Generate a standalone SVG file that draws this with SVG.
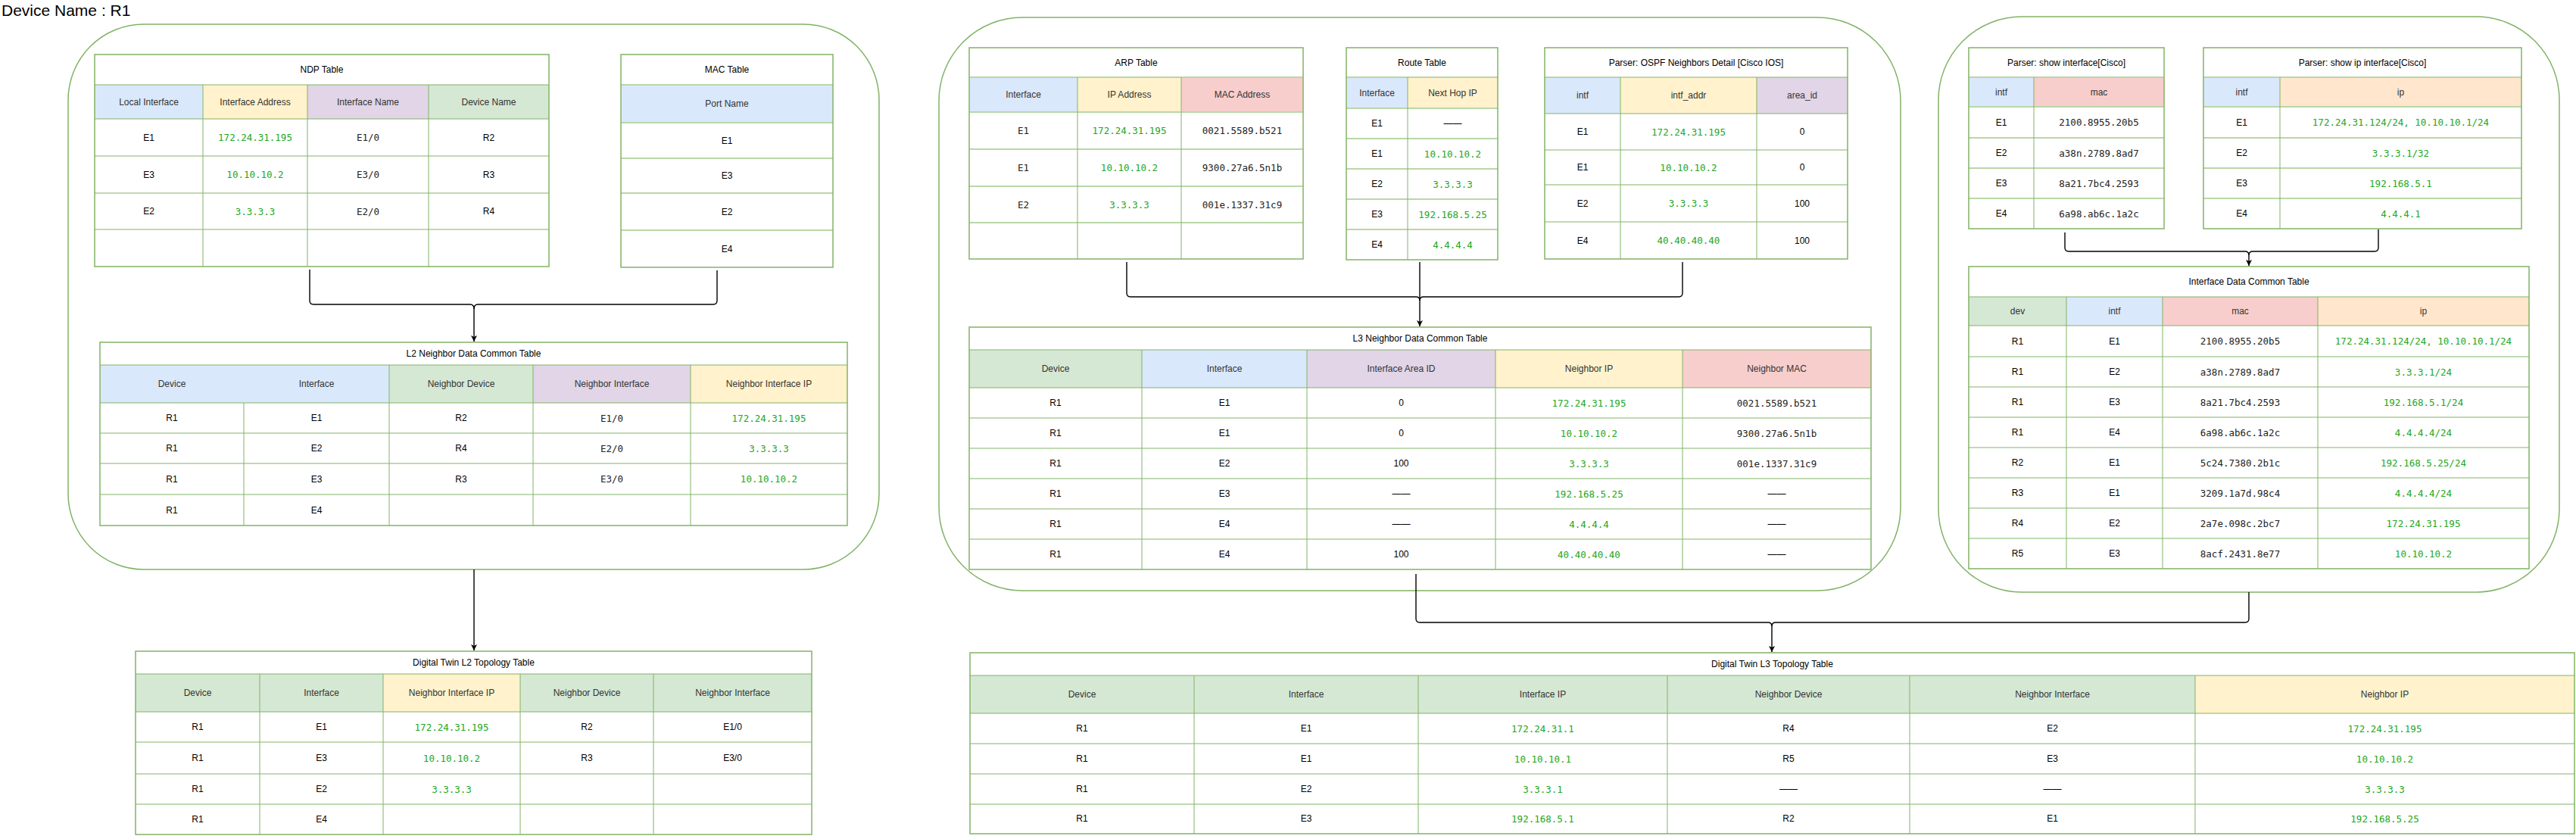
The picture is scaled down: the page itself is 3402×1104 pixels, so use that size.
<svg xmlns="http://www.w3.org/2000/svg" width="3402" height="1104" viewBox="0 0 3402 1104">
<style>
.cont{fill:#ffffff;stroke:#82b366;stroke-width:1.5}
.bg{fill:#ffffff;stroke:none}
.ob{fill:none;stroke:#82b366;stroke-width:1.5}
.ln{fill:none;stroke:#82b366;stroke-width:1}
.lt{fill:none;stroke:#b9d7a8;stroke-width:2}
.bl{fill:#dae8fc}.ye{fill:#fff2cc}.pu{fill:#e1d5e7}.gr{fill:#d5e8d4}.re{fill:#f8cecc}.or{fill:#ffe6cc}
text{text-anchor:middle;dominant-baseline:central}
.t{font-family:"Liberation Sans",Arial,sans-serif;font-size:12px;fill:#000}
.h{font-family:"Liberation Sans",Arial,sans-serif;font-size:12px;fill:#333}
.s{font-family:"Liberation Sans",Arial,sans-serif;font-size:12px;fill:#000}
.m{font-family:"DejaVu Sans Mono","Liberation Mono",monospace;font-size:12.5px;fill:#222}
.g{font-family:"DejaVu Sans Mono","Liberation Mono",monospace;font-size:12.5px;fill:#22a722}
.cn{fill:none;stroke:#000;stroke-width:1.4}
</style>
<defs>
<marker id="arr" markerWidth="10" markerHeight="10" refX="8" refY="4" orient="auto" markerUnits="userSpaceOnUse">
<path d="M0,0 L8,4 L0,8 L2,4 Z" fill="#000"/>
</marker>
</defs>

<text x="2" y="13" style="text-anchor:start;font-family:'Liberation Sans',Arial,sans-serif;font-size:21px;fill:#000">Device Name : R1</text>

<g id="containers">
<rect id="l2-container" class="cont" x="90" y="32" width="1071" height="720" rx="100"/>
<rect id="l3-container" class="cont" x="1240" y="23" width="1270" height="757" rx="110"/>
<rect id="if-container" class="cont" x="2560" y="22" width="820" height="760" rx="110"/>
</g>

<g id="ndp-table">
<rect class="bg" x="125" y="72" width="600" height="280"/>
<rect class="bl" x="125" y="112" width="143" height="45"/>
<rect class="ye" x="268" y="112" width="138" height="45"/>
<rect class="pu" x="406" y="112" width="160" height="45"/>
<rect class="gr" x="566" y="112" width="159" height="45"/>
<path class="ln" d="M125,112H725M125,157H725M125,206H725M125,255H725M125,303H725M268,112V352M406,112V352M566,112V352"/>
<rect class="ob" x="125" y="72" width="600" height="280"/>
<text class="t" x="425" y="92">NDP Table</text>
<text class="h" x="196.5" y="134.5">Local Interface</text>
<text class="h" x="337" y="134.5">Interface Address</text>
<text class="h" x="486" y="134.5">Interface Name</text>
<text class="h" x="645.5" y="134.5">Device Name</text>
<text class="s" x="196.5" y="181.5">E1</text><text class="g" x="337" y="181.5">172.24.31.195</text><text class="m" x="486" y="181.5">E1/0</text><text class="s" x="645.5" y="181.5">R2</text>
<text class="s" x="196.5" y="230.5">E3</text><text class="g" x="337" y="230.5">10.10.10.2</text><text class="m" x="486" y="230.5">E3/0</text><text class="s" x="645.5" y="230.5">R3</text>
<text class="s" x="196.5" y="279">E2</text><text class="g" x="337" y="279">3.3.3.3</text><text class="m" x="486" y="279">E2/0</text><text class="s" x="645.5" y="279">R4</text>
</g>

<g id="mac-table">
<rect class="bg" x="820" y="72" width="280" height="281"/>
<rect class="bl" x="820" y="112" width="280" height="50"/>
<path class="lt" d="M820,112H1100M820,162H1100M820,209H1100M820,255H1100M820,304H1100"/>
<rect class="ob" x="820" y="72" width="280" height="281"/>
<text class="t" x="960" y="92">MAC Table</text>
<text class="h" x="960" y="137">Port Name</text>
<text class="s" x="960" y="185.5">E1</text>
<text class="s" x="960" y="232">E3</text>
<text class="s" x="960" y="279.5">E2</text>
<text class="s" x="960" y="328.5">E4</text>
</g>

<g id="l2-neighbor-table">
<rect class="bg" x="132" y="452" width="987" height="242"/>
<rect class="bl" x="132" y="482" width="382" height="50"/>
<rect class="gr" x="514" y="482" width="190" height="50"/>
<rect class="pu" x="704" y="482" width="208" height="50"/>
<rect class="ye" x="912" y="482" width="207" height="50"/>
<path class="ln" d="M132,482H1119M132,532H1119M132,572H1119M132,612H1119M132,653H1119M322,532V694M514,482V694M704,482V694M912,482V694"/>
<rect class="ob" x="132" y="452" width="987" height="242"/>
<text class="t" x="625.5" y="467">L2 Neighbor Data Common Table</text>
<text class="h" x="227" y="507">Device</text>
<text class="h" x="418" y="507">Interface</text>
<text class="h" x="609" y="507">Neighbor Device</text>
<text class="h" x="808" y="507">Neighbor Interface</text>
<text class="h" x="1015.5" y="507">Neighbor Interface IP</text>
<text class="s" x="227" y="552">R1</text><text class="s" x="418" y="552">E1</text><text class="s" x="609" y="552">R2</text><text class="m" x="808" y="552">E1/0</text><text class="g" x="1015.5" y="552">172.24.31.195</text>
<text class="s" x="227" y="592">R1</text><text class="s" x="418" y="592">E2</text><text class="s" x="609" y="592">R4</text><text class="m" x="808" y="592">E2/0</text><text class="g" x="1015.5" y="592">3.3.3.3</text>
<text class="s" x="227" y="632.5">R1</text><text class="s" x="418" y="632.5">E3</text><text class="s" x="609" y="632.5">R3</text><text class="m" x="808" y="632.5">E3/0</text><text class="g" x="1015.5" y="632.5">10.10.10.2</text>
<text class="s" x="227" y="673.5">R1</text><text class="s" x="418" y="673.5">E4</text>
</g>

<g id="dt-l2-table">
<rect class="bg" x="179" y="860" width="893" height="242"/>
<rect class="gr" x="179" y="890" width="327" height="50"/>
<rect class="ye" x="506" y="890" width="181" height="50"/>
<rect class="gr" x="687" y="890" width="385" height="50"/>
<path class="ln" d="M179,890H1072M179,940H1072M179,980H1072M179,1022H1072M179,1062H1072M343,890V1102M506,890V1102M687,890V1102M863,890V1102"/>
<rect class="ob" x="179" y="860" width="893" height="242"/>
<text class="t" x="625.5" y="875">Digital Twin L2 Topology Table</text>
<text class="h" x="261" y="915">Device</text>
<text class="h" x="424.5" y="915">Interface</text>
<text class="h" x="596.5" y="915">Neighbor Interface IP</text>
<text class="h" x="775" y="915">Neighbor Device</text>
<text class="h" x="967.5" y="915">Neighbor Interface</text>
<text class="s" x="261" y="960">R1</text><text class="s" x="424.5" y="960">E1</text><text class="g" x="596.5" y="960">172.24.31.195</text><text class="s" x="775" y="960">R2</text><text class="s" x="967.5" y="960">E1/0</text>
<text class="s" x="261" y="1001">R1</text><text class="s" x="424.5" y="1001">E3</text><text class="g" x="596.5" y="1001">10.10.10.2</text><text class="s" x="775" y="1001">R3</text><text class="s" x="967.5" y="1001">E3/0</text>
<text class="s" x="261" y="1042">R1</text><text class="s" x="424.5" y="1042">E2</text><text class="g" x="596.5" y="1042">3.3.3.3</text>
<text class="s" x="261" y="1082">R1</text><text class="s" x="424.5" y="1082">E4</text>
</g>

<g id="arp-table">
<rect class="bg" x="1280" y="63" width="441" height="279"/>
<rect class="bl" x="1280" y="102" width="143" height="46"/>
<rect class="ye" x="1423" y="102" width="137" height="46"/>
<rect class="re" x="1560" y="102" width="161" height="46"/>
<path class="lt" d="M1280,102H1721M1280,148H1721M1280,197H1721M1280,246H1721M1280,294H1721"/>
<path class="ln" d="M1423,102V342M1560,102V342"/>
<rect class="ob" x="1280" y="63" width="441" height="279"/>
<text class="t" x="1500.5" y="82.5">ARP Table</text>
<text class="h" x="1351.5" y="125">Interface</text>
<text class="h" x="1491.5" y="125">IP Address</text>
<text class="h" x="1640.5" y="125">MAC Address</text>
<text class="m" x="1351.5" y="172.5">E1</text><text class="g" x="1491.5" y="172.5">172.24.31.195</text><text class="m" x="1640.5" y="172.5">0021.5589.b521</text>
<text class="m" x="1351.5" y="221.5">E1</text><text class="g" x="1491.5" y="221.5">10.10.10.2</text><text class="m" x="1640.5" y="221.5">9300.27a6.5n1b</text>
<text class="m" x="1351.5" y="270">E2</text><text class="g" x="1491.5" y="270">3.3.3.3</text><text class="m" x="1640.5" y="270">001e.1337.31c9</text>
</g>

<g id="route-table">
<rect class="bg" x="1778" y="63" width="200" height="280"/>
<rect class="bl" x="1778" y="102" width="81" height="41"/>
<rect class="ye" x="1859" y="102" width="119" height="41"/>
<path class="lt" d="M1778,102H1978M1778,143H1978M1778,183H1978M1778,223H1978M1778,263H1978M1778,303H1978"/>
<path class="ln" d="M1859,102V343"/>
<rect class="ob" x="1778" y="63" width="200" height="280"/>
<text class="t" x="1878" y="82.5">Route Table</text>
<text class="h" x="1818.5" y="122.5">Interface</text>
<text class="h" x="1918.5" y="122.5">Next Hop IP</text>
<text class="s" x="1818.5" y="163">E1</text><text class="s" x="1918.5" y="163">——</text>
<text class="s" x="1818.5" y="203">E1</text><text class="g" x="1918.5" y="203">10.10.10.2</text>
<text class="s" x="1818.5" y="243">E2</text><text class="g" x="1918.5" y="243">3.3.3.3</text>
<text class="s" x="1818.5" y="283">E3</text><text class="g" x="1918.5" y="283">192.168.5.25</text>
<text class="s" x="1818.5" y="323">E4</text><text class="g" x="1918.5" y="323">4.4.4.4</text>
</g>

<g id="ospf-table">
<rect class="bg" x="2040" y="63" width="400" height="279"/>
<rect class="bl" x="2040" y="102" width="100" height="48"/>
<rect class="ye" x="2140" y="102" width="180" height="48"/>
<rect class="pu" x="2320" y="102" width="120" height="48"/>
<path class="ln" d="M2040,102H2440M2040,150H2440M2040,198H2440M2040,244H2440M2040,293H2440M2140,102V342M2320,102V342"/>
<rect class="ob" x="2040" y="63" width="400" height="279"/>
<text class="t" x="2240" y="82.5">Parser: OSPF Neighbors Detail [Cisco IOS]</text>
<text class="h" x="2090" y="126">intf</text>
<text class="h" x="2230" y="126">intf_addr</text>
<text class="h" x="2380" y="126">area_id</text>
<text class="s" x="2090" y="174">E1</text><text class="g" x="2230" y="174">172.24.31.195</text><text class="s" x="2380" y="174">0</text>
<text class="s" x="2090" y="221">E1</text><text class="g" x="2230" y="221">10.10.10.2</text><text class="s" x="2380" y="221">0</text>
<text class="s" x="2090" y="268.5">E2</text><text class="g" x="2230" y="268.5">3.3.3.3</text><text class="s" x="2380" y="268.5">100</text>
<text class="s" x="2090" y="317.5">E4</text><text class="g" x="2230" y="317.5">40.40.40.40</text><text class="s" x="2380" y="317.5">100</text>
</g>

<g id="l3-neighbor-table">
<rect class="bg" x="1280" y="432" width="1191" height="320"/>
<rect class="gr" x="1280" y="462" width="228" height="50"/>
<rect class="bl" x="1508" y="462" width="218" height="50"/>
<rect class="pu" x="1726" y="462" width="249" height="50"/>
<rect class="ye" x="1975" y="462" width="247" height="50"/>
<rect class="re" x="2222" y="462" width="249" height="50"/>
<path class="ln" d="M1280,462H2471M1280,512H2471M1280,552H2471M1280,592H2471M1280,632H2471M1280,672H2471M1280,712H2471M1508,462V752M1726,462V752M1975,462V752M2222,462V752"/>
<rect class="ob" x="1280" y="432" width="1191" height="320"/>
<text class="t" x="1875.5" y="447">L3 Neighbor Data Common Table</text>
<text class="h" x="1394" y="487">Device</text>
<text class="h" x="1617" y="487">Interface</text>
<text class="h" x="1850.5" y="487">Interface Area ID</text>
<text class="h" x="2098.5" y="487">Neighbor IP</text>
<text class="h" x="2346.5" y="487">Neighbor MAC</text>
<text class="s" x="1394" y="532">R1</text><text class="s" x="1617" y="532">E1</text><text class="s" x="1850.5" y="532">0</text><text class="g" x="2098.5" y="532">172.24.31.195</text><text class="m" x="2346.5" y="532">0021.5589.b521</text>
<text class="s" x="1394" y="572">R1</text><text class="s" x="1617" y="572">E1</text><text class="s" x="1850.5" y="572">0</text><text class="g" x="2098.5" y="572">10.10.10.2</text><text class="m" x="2346.5" y="572">9300.27a6.5n1b</text>
<text class="s" x="1394" y="612">R1</text><text class="s" x="1617" y="612">E2</text><text class="s" x="1850.5" y="612">100</text><text class="g" x="2098.5" y="612">3.3.3.3</text><text class="m" x="2346.5" y="612">001e.1337.31c9</text>
<text class="s" x="1394" y="652">R1</text><text class="s" x="1617" y="652">E3</text><text class="s" x="1850.5" y="652">——</text><text class="g" x="2098.5" y="652">192.168.5.25</text><text class="s" x="2346.5" y="652">——</text>
<text class="s" x="1394" y="692">R1</text><text class="s" x="1617" y="692">E4</text><text class="s" x="1850.5" y="692">——</text><text class="g" x="2098.5" y="692">4.4.4.4</text><text class="s" x="2346.5" y="692">——</text>
<text class="s" x="1394" y="732">R1</text><text class="s" x="1617" y="732">E4</text><text class="s" x="1850.5" y="732">100</text><text class="g" x="2098.5" y="732">40.40.40.40</text><text class="s" x="2346.5" y="732">——</text>
</g>

<g id="show-interface-table">
<rect class="bg" x="2600" y="63" width="258" height="239"/>
<rect class="bl" x="2600" y="102" width="86" height="39"/>
<rect class="re" x="2686" y="102" width="172" height="39"/>
<path class="lt" d="M2600,102H2858M2600,141H2858M2600,182H2858M2600,222H2858M2600,262H2858"/>
<path class="ln" d="M2686,102V302"/>
<rect class="ob" x="2600" y="63" width="258" height="239"/>
<text class="t" x="2729" y="82.5">Parser: show interface[Cisco]</text>
<text class="h" x="2643" y="121.5">intf</text>
<text class="h" x="2772" y="121.5">mac</text>
<text class="s" x="2643" y="161.5">E1</text><text class="m" x="2772" y="161.5">2100.8955.20b5</text>
<text class="s" x="2643" y="202">E2</text><text class="m" x="2772" y="202">a38n.2789.8ad7</text>
<text class="s" x="2643" y="242">E3</text><text class="m" x="2772" y="242">8a21.7bc4.2593</text>
<text class="s" x="2643" y="282">E4</text><text class="m" x="2772" y="282">6a98.ab6c.1a2c</text>
</g>

<g id="show-ip-interface-table">
<rect class="bg" x="2910" y="63" width="420" height="239"/>
<rect class="bl" x="2910" y="102" width="101" height="39"/>
<rect class="or" x="3011" y="102" width="319" height="39"/>
<path class="lt" d="M2910,102H3330M2910,141H3330M2910,182H3330M2910,222H3330M2910,262H3330"/>
<path class="ln" d="M3011,102V302"/>
<rect class="ob" x="2910" y="63" width="420" height="239"/>
<text class="t" x="3120" y="82.5">Parser: show ip interface[Cisco]</text>
<text class="h" x="2960.5" y="121.5">intf</text>
<text class="h" x="3170.5" y="121.5">ip</text>
<text class="s" x="2960.5" y="161.5">E1</text><text class="g" x="3170.5" y="161.5">172.24.31.124/24, 10.10.10.1/24</text>
<text class="s" x="2960.5" y="202">E2</text><text class="g" x="3170.5" y="202">3.3.3.1/32</text>
<text class="s" x="2960.5" y="242">E3</text><text class="g" x="3170.5" y="242">192.168.5.1</text>
<text class="s" x="2960.5" y="282">E4</text><text class="g" x="3170.5" y="282">4.4.4.1</text>
</g>

<g id="interface-data-table">
<rect class="bg" x="2600" y="352" width="740" height="399"/>
<rect class="gr" x="2600" y="392" width="129" height="38"/>
<rect class="bl" x="2729" y="392" width="127" height="38"/>
<rect class="re" x="2856" y="392" width="205" height="38"/>
<rect class="or" x="3061" y="392" width="279" height="38"/>
<path class="ln" d="M2600,392H3340M2600,430H3340M2600,471H3340M2600,511H3340M2600,551H3340M2600,591H3340M2600,631H3340M2600,671H3340M2600,711H3340M2729,392V751M2856,392V751M3061,392V751"/>
<rect class="ob" x="2600" y="352" width="740" height="399"/>
<text class="t" x="2970" y="372">Interface Data Common Table</text>
<text class="h" x="2664.5" y="411">dev</text>
<text class="h" x="2792.5" y="411">intf</text>
<text class="h" x="2958.5" y="411">mac</text>
<text class="h" x="3200.5" y="411">ip</text>
<text class="s" x="2664.5" y="450.5">R1</text><text class="s" x="2792.5" y="450.5">E1</text><text class="m" x="2958.5" y="450.5">2100.8955.20b5</text><text class="g" x="3200.5" y="450.5">172.24.31.124/24, 10.10.10.1/24</text>
<text class="s" x="2664.5" y="491">R1</text><text class="s" x="2792.5" y="491">E2</text><text class="m" x="2958.5" y="491">a38n.2789.8ad7</text><text class="g" x="3200.5" y="491">3.3.3.1/24</text>
<text class="s" x="2664.5" y="531">R1</text><text class="s" x="2792.5" y="531">E3</text><text class="m" x="2958.5" y="531">8a21.7bc4.2593</text><text class="g" x="3200.5" y="531">192.168.5.1/24</text>
<text class="s" x="2664.5" y="571">R1</text><text class="s" x="2792.5" y="571">E4</text><text class="m" x="2958.5" y="571">6a98.ab6c.1a2c</text><text class="g" x="3200.5" y="571">4.4.4.4/24</text>
<text class="s" x="2664.5" y="611">R2</text><text class="s" x="2792.5" y="611">E1</text><text class="m" x="2958.5" y="611">5c24.7380.2b1c</text><text class="g" x="3200.5" y="611">192.168.5.25/24</text>
<text class="s" x="2664.5" y="651">R3</text><text class="s" x="2792.5" y="651">E1</text><text class="m" x="2958.5" y="651">3209.1a7d.98c4</text><text class="g" x="3200.5" y="651">4.4.4.4/24</text>
<text class="s" x="2664.5" y="691">R4</text><text class="s" x="2792.5" y="691">E2</text><text class="m" x="2958.5" y="691">2a7e.098c.2bc7</text><text class="g" x="3200.5" y="691">172.24.31.195</text>
<text class="s" x="2664.5" y="731">R5</text><text class="s" x="2792.5" y="731">E3</text><text class="m" x="2958.5" y="731">8acf.2431.8e77</text><text class="g" x="3200.5" y="731">10.10.10.2</text>
</g>

<g id="dt-l3-table">
<rect class="bg" x="1281" y="862" width="2119" height="239"/>
<rect class="gr" x="1281" y="892" width="1618" height="50"/>
<rect class="ye" x="2899" y="892" width="501" height="50"/>
<path class="ln" d="M1281,892H3400M1281,942H3400M1281,982H3400M1281,1022H3400M1281,1062H3400M1577,892V1101M1873,892V1101M2202,892V1101M2522,892V1101M2899,892V1101"/>
<rect class="ob" x="1281" y="862" width="2119" height="239"/>
<text class="t" x="2340.5" y="877">Digital Twin L3 Topology Table</text>
<text class="h" x="1429" y="917">Device</text>
<text class="h" x="1725" y="917">Interface</text>
<text class="h" x="2037.5" y="917">Interface IP</text>
<text class="h" x="2362" y="917">Neighbor Device</text>
<text class="h" x="2710.5" y="917">Neighbor Interface</text>
<text class="h" x="3149.5" y="917">Neighbor IP</text>
<text class="s" x="1429" y="962">R1</text><text class="s" x="1725" y="962">E1</text><text class="g" x="2037.5" y="962">172.24.31.1</text><text class="s" x="2362" y="962">R4</text><text class="s" x="2710.5" y="962">E2</text><text class="g" x="3149.5" y="962">172.24.31.195</text>
<text class="s" x="1429" y="1002">R1</text><text class="s" x="1725" y="1002">E1</text><text class="g" x="2037.5" y="1002">10.10.10.1</text><text class="s" x="2362" y="1002">R5</text><text class="s" x="2710.5" y="1002">E3</text><text class="g" x="3149.5" y="1002">10.10.10.2</text>
<text class="s" x="1429" y="1042">R1</text><text class="s" x="1725" y="1042">E2</text><text class="g" x="2037.5" y="1042">3.3.3.1</text><text class="s" x="2362" y="1042">——</text><text class="s" x="2710.5" y="1042">——</text><text class="g" x="3149.5" y="1042">3.3.3.3</text>
<text class="s" x="1429" y="1081">R1</text><text class="s" x="1725" y="1081">E3</text><text class="g" x="2037.5" y="1081">192.168.5.1</text><text class="s" x="2362" y="1081">R2</text><text class="s" x="2710.5" y="1081">E1</text><text class="g" x="3149.5" y="1081">192.168.5.25</text>
</g>

<g id="connectors">
<path class="cn" d="M409,356V397Q409,402 414,402H621Q626,402 626,408V451" marker-end="url(#arr)"/>
<path class="cn" d="M947,357V397Q947,402 942,402H631Q626,402 626,408"/>
<path class="cn" d="M626,752V859" marker-end="url(#arr)"/>
<path class="cn" d="M1488,346V387Q1488,392 1493,392H1870Q1875,392 1875,397"/>
<path class="cn" d="M1875,346V431" marker-end="url(#arr)"/>
<path class="cn" d="M2222,346V387Q2222,392 2217,392H1880Q1875,392 1875,397"/>
<path class="cn" d="M2727,307V327Q2727,332 2732,332H2965Q2970,332 2970,337V351" marker-end="url(#arr)"/>
<path class="cn" d="M3141,303V327Q3141,332 3136,332H2975Q2970,332 2970,337"/>
<path class="cn" d="M1870,758V817Q1870,822 1875,822H2335Q2340,822 2340,827V861" marker-end="url(#arr)"/>
<path class="cn" d="M2970,782V817Q2970,822 2965,822H2345Q2340,822 2340,827"/>
</g>
</svg>
